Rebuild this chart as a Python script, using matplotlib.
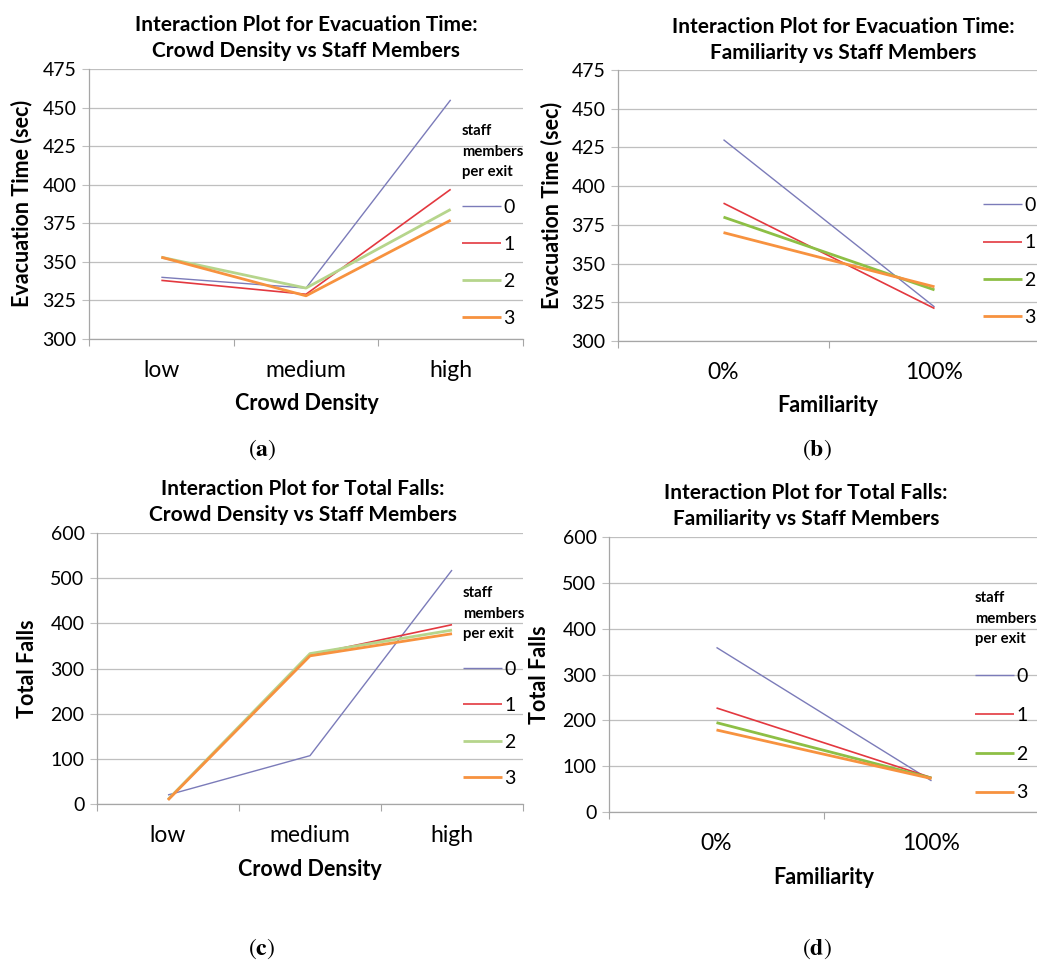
import matplotlib
matplotlib.use("Agg")
import matplotlib.pyplot as plt

plt.rcParams['font.family'] = ['Lato', 'DejaVu Sans']
plt.rcParams['mathtext.fontset'] = 'stix'

W, H = 1037, 961

staff = ["0", "1", "2", "3"]
density = ["low", "medium", "high"]
familiarity = ["0%", "100%"]

# evacuation time (sec)
evac_density = {
    "0": [340, 333, 455],
    "1": [338, 329, 397],
    "2": [353, 333, 384],
    "3": [353, 328, 377],
}
evac_familiarity = {
    "0": [430, 322],
    "1": [389, 321],
    "2": [380, 333],
    "3": [370, 335],
}
# total falls
falls_density = {
    "0": [20, 107, 518],
    "1": [10, 330, 397],
    "2": [10, 333, 385],
    "3": [9, 328, 377],
}
falls_familiarity = {
    "0": [359, 68],
    "1": [227, 75],
    "2": [195, 74],
    "3": [179, 73],
}

colors_light = {"0": "#7b7bb9", "1": "#e3383f", "2": "#b6d58c", "3": "#f7923f"}
colors_dark = {"0": "#7b7bb9", "1": "#e3383f", "2": "#8dbf45", "3": "#f7923f"}
widths = {"0": 1.0, "1": 1.2, "2": 2.0, "3": 2.0}

GRID = "#bfbfbf"


def fx(x):
    return x / W


def fy(y):
    return 1 - y / H


def make_axes(fig, left, right, top, bottom):
    return fig.add_axes([fx(left), fy(bottom), (right - left) / W, (bottom - top) / H])


def setup(ax, cats, ylim, ystep, tickpad):
    n = len(cats)
    ax.set_xlim(0, n)
    ax.set_ylim(*ylim)
    ax.set_xticks(range(n + 1))
    ax.set_xticklabels([])
    ax.set_xticks([i + 0.5 for i in range(n)], minor=True)
    ax.set_xticklabels(cats, minor=True, fontsize=16.5)
    ax.tick_params(axis='x', which='major', length=5, width=0.8, color="#a6a6a6")
    ax.tick_params(axis='x', which='minor', length=0, pad=tickpad)
    ax.set_yticks(range(ylim[0], ylim[1] + 1, ystep))
    ax.tick_params(axis='y', length=5, width=0.8, color=GRID, labelsize=14, pad=4)
    ax.yaxis.grid(True, color=GRID, linewidth=0.9)
    ax.set_axisbelow(True)
    for s in ["top", "right"]:
        ax.spines[s].set_visible(False)
    for s in ["left", "bottom"]:
        ax.spines[s].set_color("#a6a6a6")
        ax.spines[s].set_linewidth(0.9)


def draw(ax, data, palette):
    handles = []
    for k in staff:
        vals = data[k]
        xs = [i + 0.5 for i in range(len(vals))]
        ln, = ax.plot(xs, vals, color=palette[k], lw=widths[k], solid_capstyle='butt')
        handles.append(ln)
    return handles


def add_legend(ax, fig, handles, x, y, title=True, spacing=1.0):
    leg = ax.legend(handles, staff, loc='upper left',
                    bbox_to_anchor=(fx(x), fy(y)), bbox_transform=fig.transFigure,
                    frameon=False, fontsize=14, handlelength=2.0, handletextpad=0.12,
                    labelspacing=spacing, borderpad=0, borderaxespad=0,
                    title="staff\nmembers\nper exit" if title else None,
                    title_fontproperties={'weight': 'bold', 'size': 10.7},
                    alignment='left')
    if title:
        leg.get_title().set_linespacing(1.6)
    return leg


fig = plt.figure(figsize=(W / 100, H / 100), dpi=100)

panels = [
    dict(data=evac_density, cats=density, ylim=(300, 475), step=25,
         rect=(89, 523, 69, 339), pal=colors_light,
         ylabel="Evacuation Time (sec)", ylab=(22, 203),
         xlabel="Crowd Density", xlab=(307, 404), tickpad=15,
         leg=(462, 124, True, 1.02),
         title="Interaction Plot for Evacuation Time:\nCrowd Density vs Staff Members",
         tpos=(306, 38), tag="a", tagpos=(262, 450)),
    dict(data=evac_familiarity, cats=familiarity, ylim=(300, 475), step=25,
         rect=(618, 1040, 70, 341), pal=colors_dark,
         ylabel="Evacuation Time (sec)", ylab=(552, 205),
         xlabel="Familiarity", xlab=(828, 406), tickpad=15,
         leg=(983, 197, False, 1.05),
         title="Interaction Plot for Evacuation Time:\nFamiliarity vs Staff Members",
         tpos=(843, 40), tag="b", tagpos=(817, 450)),
    dict(data=falls_density, cats=density, ylim=(0, 600), step=100,
         rect=(97, 523, 533, 804), pal=colors_light,
         ylabel="Total Falls", ylab=(28, 669),
         xlabel="Crowd Density", xlab=(310, 870), tickpad=15,
         leg=(463, 586, True, 1.0),
         title="Interaction Plot for Total Falls:\nCrowd Density vs Staff Members",
         tpos=(303, 502), tag="c", tagpos=(262, 949)),
    dict(data=falls_familiarity, cats=familiarity, ylim=(0, 600), step=100,
         rect=(609, 1039, 537, 812), pal=colors_dark,
         ylabel="Total Falls", ylab=(540, 675),
         xlabel="Familiarity", xlab=(824, 877), tickpad=15,
         leg=(975, 591, True, 1.12),
         title="Interaction Plot for Total Falls:\nFamiliarity vs Staff Members",
         tpos=(806, 506), tag="d", tagpos=(817, 949)),
]

for p in panels:
    ax = make_axes(fig, *p["rect"])
    setup(ax, p["cats"], p["ylim"], p["step"], p["tickpad"])
    hs = draw(ax, p["data"], p["pal"])
    lx, ly, lt, ls = p["leg"]
    add_legend(ax, fig, hs, lx, ly, lt, ls)
    ax.set_ylabel(p["ylabel"], fontsize=15.5, fontweight='bold', va='center')
    ax.yaxis.set_label_coords(fx(p["ylab"][0]), fy(p["ylab"][1]), transform=fig.transFigure)
    ax.set_xlabel(p["xlabel"], fontsize=15.5, fontweight='bold', va='center')
    ax.xaxis.set_label_coords(fx(p["xlab"][0]), fy(p["xlab"][1]), transform=fig.transFigure)
    fig.text(fx(p["tpos"][0]), fy(p["tpos"][1]), p["title"], ha='center', va='center',
             fontsize=15, fontweight='bold', linespacing=1.4)
    fig.text(fx(p["tagpos"][0]), fy(p["tagpos"][1]), r"$(\mathbf{%s})$" % p["tag"],
             ha='center', va='center', fontsize=17)

fig.savefig("out.png", dpi=100)
